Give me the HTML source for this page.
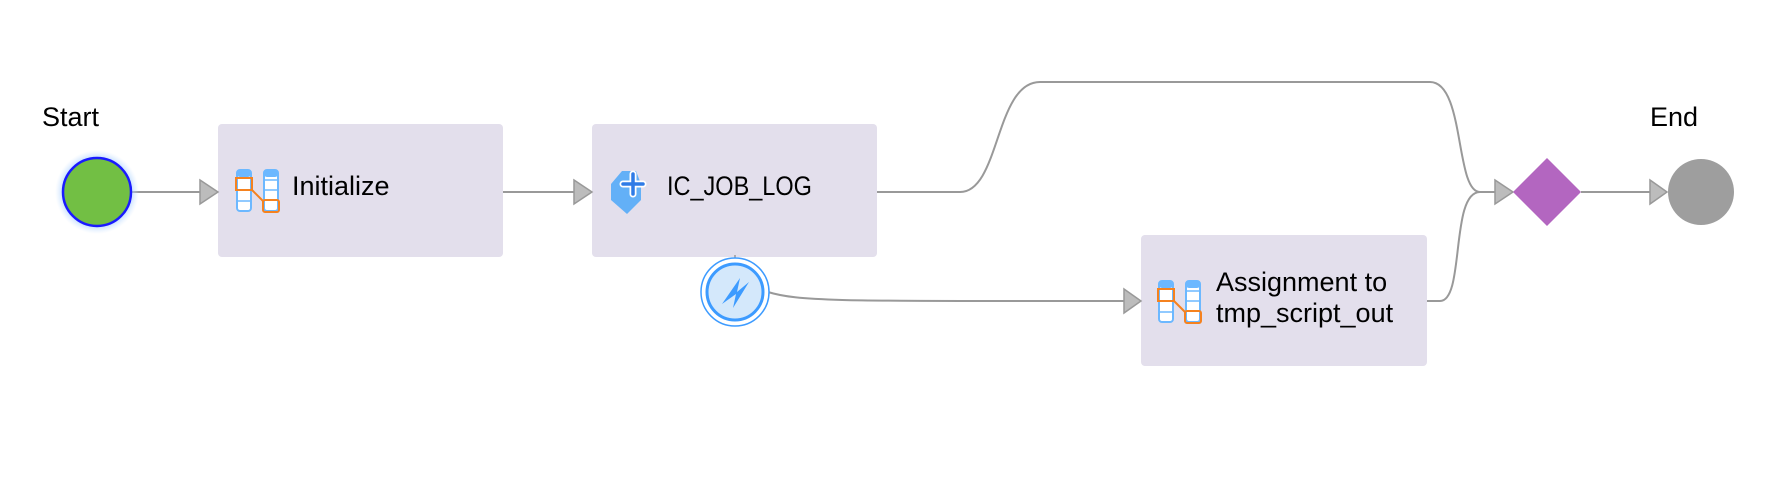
<!DOCTYPE html>
<html><head><meta charset="utf-8"><style>
html,body{margin:0;padding:0;background:#fff;}
body{width:1788px;height:480px;overflow:hidden;position:relative;font-family:"Liberation Sans",sans-serif;}
.t{position:absolute;font-size:27px;color:#000;white-space:nowrap;}
</style></head><body>
<svg width="1788" height="480" style="position:absolute;left:0;top:0">
<defs>
<radialGradient id="glow"><stop offset="0.75" stop-color="#9cc8ff" stop-opacity="0.9"/><stop offset="1" stop-color="#cfe5ff" stop-opacity="0"/></radialGradient>
</defs>
<rect x="218" y="124" width="285" height="133" rx="4" fill="#e3dfec"/>
<rect x="592" y="124" width="285" height="133" rx="4" fill="#e3dfec"/>
<rect x="1141" y="235" width="286" height="131" rx="4" fill="#e3dfec"/>
<g fill="none" stroke="#999" stroke-width="2">
<path d="M132 192 H200"/>
<path d="M503 192 H574"/>
<path d="M877 192 H960 C1000 192 995 82 1040 82 H1430 C1465 82 1455 192 1480 192 H1496"/>
<path d="M1427 301 H1440 C1465 301 1450 192 1480 192"/>
<path d="M768 292 C800 302 850 301 1124 301"/>
<path d="M1581 192 H1650"/>
</g>
<g fill="#bcbcbc" stroke="#999" stroke-width="1.5">
<path d="M200 180 L218 192 L200 204 Z"/>
<path d="M574 180 L592 192 L574 204 Z"/>
<path d="M1495 180 L1513 192 L1495 204 Z"/>
<path d="M1124 289 L1141 301 L1124 313 Z"/>
<path d="M1650 180 L1667 192 L1650 204 Z"/>
</g>
<circle cx="97" cy="192" r="42" fill="url(#glow)"/>
<circle cx="97" cy="192" r="34" fill="#72bf44" stroke="#1a1aff" stroke-width="2.5"/>
<path d="M1547 158 L1581 192 L1547 226 L1513 192 Z" fill="#b366c0"/>
<circle cx="1701" cy="192" r="33" fill="#9e9e9e"/>
<line x1="735" y1="255" x2="735" y2="262" stroke="#999" stroke-width="1.5"/>
<circle cx="735" cy="292" r="34" fill="#fff" stroke="#3d9bff" stroke-width="1.5"/>
<circle cx="735" cy="292" r="28" fill="#d4e8fb" stroke="#3d9bff" stroke-width="3"/>
<path d="M722 304 L740 278 L737 292 L749 282 L733 308 L736 294 Z" fill="#3d9bff"/>
<g id="ic1">
<rect x="237" y="170" width="14" height="41" rx="3" fill="#fff" stroke="#6cb8ff" stroke-width="2"/>
<rect x="237" y="170" width="14" height="7" rx="3" fill="#6cb8ff"/>
<line x1="237" y1="190" x2="251" y2="190" stroke="#6cb8ff" stroke-width="1.5"/>
<line x1="237" y1="201" x2="251" y2="201" stroke="#6cb8ff" stroke-width="1.5"/>
<rect x="264" y="170" width="14" height="41" rx="3" fill="#fff" stroke="#6cb8ff" stroke-width="2"/>
<rect x="264" y="170" width="14" height="7" rx="3" fill="#6cb8ff"/>
<line x1="264" y1="180" x2="278" y2="180" stroke="#6cb8ff" stroke-width="1.5"/>
<line x1="264" y1="190" x2="278" y2="190" stroke="#6cb8ff" stroke-width="1.5"/>
<rect x="236" y="178" width="16" height="12" fill="none" stroke="#f5821f" stroke-width="2"/>
<rect x="263" y="200" width="16" height="12" rx="2" fill="none" stroke="#f5821f" stroke-width="2"/>
<path d="M252 190 L263 201" stroke="#f5821f" stroke-width="2"/>
</g>
<use href="#ic1" x="922" y="111"/>
<path d="M622 171 L636 171 L641 184 L641 200 L627 214 L611 200 L611 184 Z" fill="#63b0f7"/>
<path d="M633 174 v20 M623 184 h20" stroke="#fff" stroke-width="7" stroke-linecap="round"/>
<path d="M633 174 v20 M623 184 h20" stroke="#2e7be6" stroke-width="3.5" stroke-linecap="round"/>
</svg>
<div class="t" style="left:42px;top:102px;">Start</div>
<div class="t" style="left:1650px;top:102px;">End</div>
<div class="t" style="left:292px;top:171px;">Initialize</div>
<div class="t" style="left:667px;top:171px;transform:scaleX(0.87);transform-origin:0 0;">IC_JOB_LOG</div>
<div class="t" style="left:1216px;top:267px;line-height:31px;">Assignment to<br>tmp_script_out</div>
</body></html>
